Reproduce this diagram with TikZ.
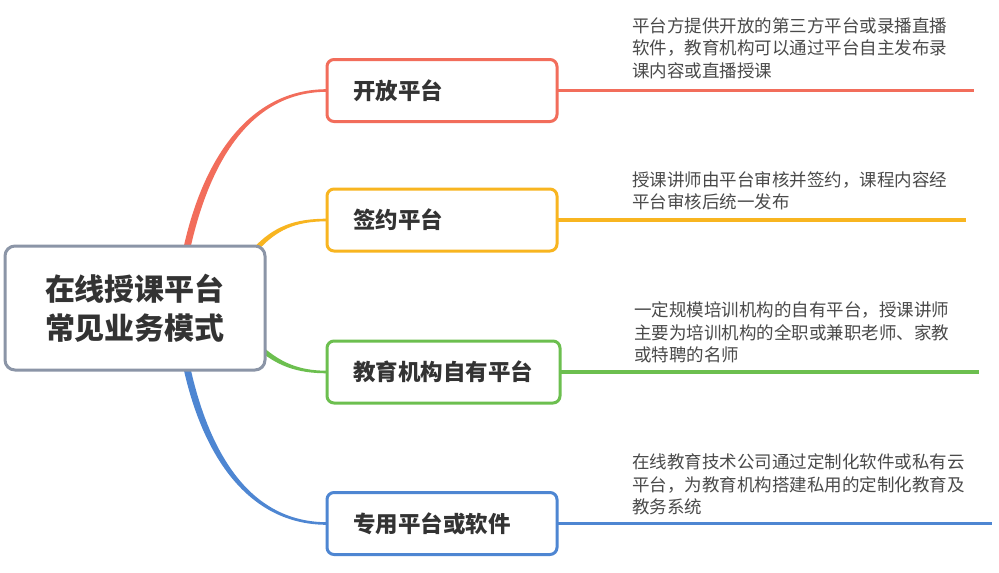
\documentclass[tikz,border=0pt]{standalone}
\usepackage{fontspec}
\newfontfamily\cjk{Noto Sans CJK SC}
\definecolor{cRed}{HTML}{F26D5B}
\definecolor{cYel}{HTML}{F8B520}
\definecolor{cGrn}{HTML}{6CBF4F}
\definecolor{cBlu}{HTML}{4E86D2}
\definecolor{cGry}{HTML}{8B95A7}
\definecolor{cTxt}{HTML}{333333}
\definecolor{cDesc}{HTML}{4A4A4A}
\pgfdeclarelayer{bg}
\pgfsetlayers{bg,main}
\newcommand{\lines}[1]{\vtop{#1}}
\begin{document}
\begin{tikzpicture}[x=1pt,y=-1pt,
  topic/.style={draw, line width=3pt, rounded corners=7pt, fill=white,
    inner xsep=26pt, inner ysep=0pt, outer sep=0pt, minimum height=62pt,
    text width=178pt, align=left, text=cTxt,
    font=\cjk\bfseries\fontsize{22.5}{27}\selectfont, anchor=west},
  desc/.style={anchor=base west, inner sep=0pt, text=cDesc,
    font=\cjk\fontsize{17.5}{22.6}\selectfont},
  uline/.style={line width=3.8pt},
]
\useasboundingbox (0,0) rectangle (999,573);

% central topic
\node[draw=cGry, line width=3pt, rounded corners=10pt, fill=white,
  minimum width=260pt, minimum height=124pt, outer sep=0pt, align=center,
  text=cTxt, font=\cjk\bfseries\fontsize{30}{39}\selectfont]
  (root) at (135,308) {在线授课平台\\常见业务模式};

% branch topics
\node[topic, draw=cRed] (b1) at (327,90.5) {开放平台};
\node[topic, draw=cYel] (b2) at (327,220) {签约平台};
\node[topic, draw=cGrn, text width=181pt] (b3) at (327,372) {教育机构自有平台};
\node[topic, draw=cBlu] (b4) at (327,523.5) {专用平台或软件};

% roots of the branches (hidden under the central topic)
\coordinate (r1) at (186.5,250);
\coordinate (r2) at (255,250);
\coordinate (r3) at (258,346);
\coordinate (r4) at (186.5,366);

% ends of the underlines
\coordinate (e1) at (974,90.5);
\coordinate (e2) at (966,220);
\coordinate (e3) at (979,372);
\coordinate (e4) at (992,523.5);

\begin{pgfonlayer}{bg}
\fill[white] (0,0) rectangle (999,573);
\fill[cRed] ([xshift=-3.5pt]r1) .. controls +(19.5,-91) and +(-78,0) .. ([yshift=1.3pt]b1.west)
  -- ([yshift=-1.3pt]b1.west) .. controls +(-76,0) and +(19.5,-89) .. ([xshift=3.5pt]r1) -- cycle;
\fill[cBlu] ([xshift=-3.5pt]r4) .. controls +(19.5,91) and +(-78,0) .. ([yshift=-1.3pt]b4.west)
  -- ([yshift=1.3pt]b4.west) .. controls +(-76,0) and +(19.5,89) .. ([xshift=3.5pt]r4) -- cycle;
\fill[cYel] ([shift={(-1.85,-1.7)}]r2) .. controls +(20.5,-22) and +(-32.5,0) .. ([yshift=1.3pt]b2.west)
  -- ([yshift=-1.3pt]b2.west) .. controls +(-31.5,0) and +(19.5,-22) .. ([shift={(1.85,1.7)}]r2) -- cycle;
\fill[cGrn] ([shift={(1.7,-1.85)}]r3) .. controls +(20,18) and +(-29,0) .. ([yshift=1.3pt]b3.west)
  -- ([yshift=-1.3pt]b3.west) .. controls +(-30,0) and +(20,18) .. ([shift={(-1.7,1.85)}]r3) -- cycle;

\draw[cRed, uline] (b1.east) -- (e1);
\draw[cYel, uline] (b2.east) -- (e2);
\draw[cGrn, uline] (b3.east) -- (e3);
\draw[cBlu, uline] (b4.east) -- (e4);
\end{pgfonlayer}

% descriptions
\node[desc] (d1) at (632,32.3) {\lines{\hbox{平台方提供开放的第三方平台或录播直播}\hbox{软件，教育机构可以通过平台自主发布录}\hbox{课内容或直播授课}}};
\node[desc] (d2) at (632,186.2) {\lines{\hbox{授课讲师由平台审核并签约，课程内容经}\hbox{平台审核后统一发布}}};
\node[desc] (d3) at (634,316.5) {\lines{\hbox{一定规模培训机构的自有平台，授课讲师}\hbox{主要为培训机构的全职或兼职老师、家教}\hbox{或特聘的名师}}};
\node[desc] (d4) at (632,468.5) {\lines{\hbox{在线教育技术公司通过定制化软件或私有云}\hbox{平台，为教育机构搭建私用的定制化教育及}\hbox{教务系统}}};
\end{tikzpicture}
\end{document}
